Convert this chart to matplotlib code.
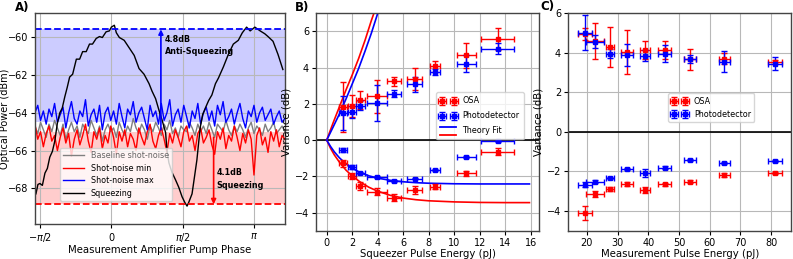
import numpy as np
import matplotlib
matplotlib.use("Agg")
import matplotlib.pyplot as plt
from matplotlib.lines import Line2D

# ---- Panel A: traces ----
# phase positions are in units of pi
sq_phase = [-0.528, -0.514, -0.5, -0.483, -0.465, -0.448, -0.431, -0.413, -0.396, -0.378,
            -0.361, -0.344, -0.326, -0.309, -0.292, -0.271, -0.245, -0.222, -0.201, -0.176,
            -0.153, -0.132, -0.106, -0.083, -0.063, -0.037, -0.014, 0.0, 0.021, 0.035,
            0.056, 0.090, 0.125, 0.160, 0.194, 0.229, 0.264, 0.285, 0.310, 0.333,
            0.354, 0.380, 0.389, 0.403, 0.424, 0.449, 0.472, 0.495, 0.514, 0.530,
            0.542, 0.565, 0.583, 0.599, 0.611, 0.623, 0.639, 0.658, 0.681, 0.704,
            0.729, 0.750, 0.785, 0.819, 0.854, 0.889, 0.917, 0.947, 0.972, 1.005,
            1.042, 1.074, 1.097, 1.132, 1.167, 1.201]
sq_power = [-68.3, -67.8, -67.75, -67.85, -67.2, -66.95, -66.35, -66.05, -65.5, -64.55,
            -64.0, -63.75, -63.15, -62.65, -62.1, -61.95, -61.15, -61.15, -60.75, -60.75,
            -60.35, -60.35, -60.05, -59.95, -60.0, -59.7, -59.65, -59.45, -59.35, -59.75,
            -60.0, -60.15, -60.55, -60.95, -61.65, -61.95, -62.45, -62.85, -63.25, -63.85,
            -64.35, -65.05, -65.95, -66.65, -67.15, -67.55, -67.95, -68.45, -68.75, -68.95,
            -68.75, -68.3, -67.35, -66.5, -65.6, -64.75, -64.1, -63.75, -63.35, -63.05,
            -62.45, -62.15, -61.55, -60.9, -60.35, -60.15, -59.75, -59.45, -59.65, -59.45,
            -59.65, -59.8, -59.95, -60.2, -60.9, -61.7]

noise_max = [-64.0, -63.6, -64.4, -63.9, -64.6, -63.8, -64.2, -63.5, -64.5, -64.1, -63.7, -64.8, -64.0, -63.4, -64.3,
             -64.6, -63.9, -64.2, -63.3, -64.7, -64.1, -63.8, -64.5, -63.6, -64.9, -64.0, -63.7, -64.4, -63.9, -64.6,
             -63.5, -64.2, -64.8, -63.8, -64.1, -63.4, -64.5, -64.0, -63.7, -64.3, -64.9, -63.6, -64.2, -63.9, -64.6,
             -63.5, -64.4, -64.0, -63.3, -64.7, -64.1, -63.8, -64.5, -63.6, -64.2, -64.8, -63.9, -64.3, -63.5, -64.6,
             -64.0, -63.7, -64.4, -63.9, -64.7, -63.6, -64.1, -63.4, -64.5, -64.2, -63.8, -64.6, -64.0, -63.5, -64.3,
             -64.8, -63.9, -64.2, -63.6, -64.5, -64.0, -63.7, -64.4, -64.1, -63.8, -64.6, -64.2, -63.9, -64.5, -64.3]
noise_base = [-64.7, -65.1, -64.5, -64.9, -65.3, -64.6, -65.0, -64.4, -64.8, -65.2, -64.6, -65.4, -64.9, -64.5, -65.0,
              -64.7, -65.3, -64.6, -64.9, -65.1, -64.4, -64.8, -65.2, -64.7, -65.5, -64.9, -64.6, -65.0, -64.8, -65.3,
              -64.5, -64.9, -65.2, -64.7, -65.0, -64.3, -64.8, -65.1, -64.6, -64.9, -65.4, -64.7, -65.0, -64.5, -64.8,
              -65.2, -64.6, -64.9, -64.4, -65.1, -64.8, -65.3, -64.7, -64.9, -65.0, -64.5, -64.8, -65.2, -64.6, -65.0,
              -64.7, -65.1, -64.5, -64.9, -65.3, -64.6, -64.8, -65.0, -64.4, -64.9, -65.2, -64.7, -65.0, -64.6, -64.9,
              -65.3, -64.8, -64.5, -65.1, -64.7, -64.9, -65.2, -64.6, -65.0, -64.8, -64.5, -65.1, -64.9, -64.7, -65.0]
noise_min = [-64.6, -65.4, -65.0, -65.8, -65.1, -64.7, -65.5, -65.2, -66.0, -65.3, -64.8, -65.6, -65.1, -66.3, -65.4,
             -64.9, -65.7, -65.2, -64.6, -65.5, -66.1, -65.0, -65.4, -64.8, -65.9, -65.2, -65.6, -64.7, -65.3, -66.2,
             -65.0, -65.5, -64.9, -65.8, -65.1, -65.4, -66.0, -64.8, -65.3, -65.7, -65.0, -64.6, -65.5, -65.9, -65.2,
             -64.8, -65.4, -66.1, -65.1, -65.6, -64.9, -65.3, -65.8, -65.0, -64.7, -65.5, -65.2, -66.0, -65.1, -64.8,
             -65.6, -65.3, -64.9, -65.7, -66.2, -65.0, -65.4, -64.8, -65.9, -65.2, -65.5, -64.7, -65.3, -66.0, -65.1,
             -65.6, -64.9, -65.4, -67.3, -65.2, -64.8, -65.7, -65.3, -66.1, -65.0, -65.5, -64.9, -65.8, -65.2, -65.4]

anti_sq_level = -59.57
sq_level = -68.85
blue_band_low = -64.5
red_band_high = -65.0

# ---- Panel B: variance vs squeezer pulse energy ----
b_x = [1.3, 2.0, 2.64, 3.95, 5.25, 6.9, 8.49, 10.95, 13.41]
b_xerr = [0.3, 0.3, 0.37, 0.76, 0.56, 0.6, 0.39, 0.72, 1.31]
b_osa_anti = [1.83, 1.87, 2.2, 2.42, 3.25, 3.39, 4.07, 4.68, 5.6]
b_osa_anti_err = [1.4, 0.6, 0.5, 0.9, 0.25, 0.6, 0.3, 0.7, 0.6]
b_pd_anti = [1.5, 1.56, 1.89, 2.05, 2.57, 3.08, 3.76, 4.22, 5.05]
b_pd_anti_err = [0.92, 0.35, 0.25, 1.0, 0.2, 0.4, 0.15, 0.46, 0.3]
b_osa_sq = [-1.28, -1.98, -2.53, -2.84, -3.18, -2.75, -2.57, -1.83, -0.64]
b_osa_sq_err = [0.2, 0.15, 0.2, 0.2, 0.2, 0.2, 0.15, 0.15, 0.2]
b_pd_sq = [-0.55, -1.47, -1.8, -2.05, -2.26, -2.12, -1.65, -0.92, -0.05]
b_pd_sq_err = [0.1, 0.1, 0.06, 0.06, 0.06, 0.05, 0.05, 0.05, 0.05]

fit_up_x = [0, 0.5, 1.0, 1.5, 2.0, 2.5, 3.0, 3.5, 4.0, 4.5]
fit_up_red = [0, 0.95, 1.85, 2.75, 3.6, 4.5, 5.5, 6.6, 7.6, 8.7]
fit_up_blue = [0, 0.72, 1.45, 2.25, 3.1, 3.95, 4.9, 5.9, 7.0, 8.0]
fit_lo_x = [0, 0.3, 0.6, 1.0, 1.5, 2.0, 2.6, 3.3, 4.0, 5.0, 6.0, 7.0, 8.0, 10.0, 12.0, 14.0, 15.9]
fit_lo_red = [0, -0.45, -0.82, -1.22, -1.65, -1.98, -2.3, -2.6, -2.82, -3.05, -3.2, -3.29, -3.35, -3.41, -3.44, -3.45, -3.45]
fit_lo_blue = [0, -0.35, -0.65, -0.98, -1.3, -1.55, -1.78, -1.97, -2.1, -2.22, -2.3, -2.35, -2.38, -2.41, -2.42, -2.42, -2.42]

# ---- Panel C: variance vs measurement pulse energy ----
c_x = [19.4, 22.6, 27.5, 33.2, 39.0, 45.3, 53.6, 64.8, 81.2]
c_xerr = [2.2, 3.0, 1.2, 2.0, 1.7, 2.05, 1.9, 1.8, 2.3]
c_osa_anti = [4.94, 4.6, 4.3, 4.05, 4.15, 4.15, 3.68, 3.71, 3.56]
c_osa_anti_err = [0.3, 0.9, 1.0, 1.1, 0.46, 0.46, 0.53, 0.3, 0.1]
c_pd_anti = [5.02, 4.57, 3.96, 3.88, 3.85, 3.96, 3.68, 3.56, 3.46]
c_pd_anti_err = [0.9, 0.33, 0.24, 0.56, 0.28, 0.42, 0.2, 0.52, 0.34]
c_osa_sq = [-4.12, -3.14, -2.89, -2.64, -2.94, -2.65, -2.52, -2.18, -2.08]
c_osa_sq_err = [0.36, 0.15, 0.1, 0.1, 0.15, 0.08, 0.08, 0.08, 0.05]
c_pd_sq = [-2.67, -2.52, -2.32, -1.88, -2.08, -1.81, -1.41, -1.58, -1.47]
c_pd_sq_err = [0.12, 0.06, 0.06, 0.06, 0.2, 0.06, 0.06, 0.06, 0.06]

TICK = 7
LAB = 7.3
LEG = 5.8
SPINE = "#444444"


class TwoLineHandler:
    # legend handle with a blue line over a red line
    def legend_artist(self, legend, orig_handle, fontsize, handlebox):
        x0, y0 = handlebox.xdescent, handlebox.ydescent
        w, h = handlebox.width, handlebox.height
        top = Line2D([x0, x0 + w], [y0 + h * 1.15] * 2, color="blue", lw=1.3)
        bot = Line2D([x0, x0 + w], [y0 - h * 0.35] * 2, color="red", lw=1.3)
        handlebox.add_artist(top)
        handlebox.add_artist(bot)
        return top


def style(ax):
    ax.grid(True, color="#b8b8b8", lw=0.8)
    ax.tick_params(labelsize=TICK, length=3, width=0.8, pad=2)
    for s in ax.spines.values():
        s.set_color(SPINE)
        s.set_linewidth(1.0)


def errpts(ax, x, y, xerr, yerr, color, label=None):
    return ax.errorbar(x, y, xerr=xerr, yerr=yerr, fmt="s", color=color, ms=2.5,
                       elinewidth=1.0, capsize=2, capthick=1.0, label=label)


fig = plt.figure(figsize=(7.93, 2.59), dpi=100)
axA = fig.add_axes([0.0441, 0.1351, 0.3153, 0.8147])
axB = fig.add_axes([0.3985, 0.1093, 0.2812, 0.8393])
axC = fig.add_axes([0.7163, 0.1093, 0.2818, 0.8393])

# ---------------- A ----------------
noise_phase = np.linspace(-0.535, 1.215, len(noise_base)) * np.pi
axA.axhspan(blue_band_low, anti_sq_level, color="blue", alpha=0.2, lw=0)
axA.axhspan(sq_level, red_band_high, color="red", alpha=0.2, lw=0)
axA.plot(noise_phase, noise_base, color="gray", lw=1.0, label="Baseline shot-noise")
axA.plot(noise_phase, noise_min, color="red", lw=1.0, label="Shot-noise min")
axA.plot(noise_phase, noise_max, color="blue", lw=1.0, label="Shot-noise max")
axA.plot(np.array(sq_phase) * np.pi, sq_power, color="black", lw=1.0, label="Squeezing")
axA.axhline(anti_sq_level, color="blue", ls="--", lw=1.3)
axA.axhline(sq_level, color="red", ls="--", lw=1.3)
axA.annotate("", xy=(1.09, anti_sq_level), xytext=(1.09, -64.9),
             arrowprops=dict(arrowstyle="-|>", color="blue", lw=1.2, shrinkA=0, shrinkB=0,
                             mutation_scale=7))
axA.annotate("", xy=(2.25, sq_level), xytext=(2.25, -65.3),
             arrowprops=dict(arrowstyle="-|>", color="red", lw=1.2, shrinkA=0, shrinkB=0,
                             mutation_scale=7))
axA.text(1.17, -59.85, "4.8dB\nAnti-Squeezing", fontsize=5.8, fontweight="bold",
         va="top", ha="left", linespacing=1.5)
axA.text(2.31, -67.5, "4.1dB\nSqueezing", fontsize=5.8, fontweight="bold",
         va="center", ha="left", linespacing=1.5)
axA.set_xlim(-1.68, 3.82)
axA.set_ylim(-69.9, -58.7)
axA.set_xticks([-np.pi / 2, 0, np.pi / 2, np.pi])
axA.set_xticklabels([r"$-\pi/2$", r"$0$", r"$\pi/2$", r"$\pi$"])
axA.set_yticks([-68, -66, -64, -62, -60])
axA.set_xlabel("Measurement Amplifier Pump Phase", fontsize=LAB, labelpad=1)
style(axA)
axA.tick_params(axis="y", pad=1.5)
axA.set_ylabel("Optical Power (dBm)", fontsize=7)
axA.yaxis.set_label_coords(-0.1, 0.5)
legA = axA.legend(loc="lower left", bbox_to_anchor=(0.085, 0.09), fontsize=LEG,
                  handlelength=2.6, borderpad=0.4, labelspacing=0.45, framealpha=0.8)
legA.get_texts()[0].set_color("#666666")

# ---------------- B ----------------
axB.axhline(0, color="black", lw=1.2, zorder=1.8)
axB.plot(fit_up_x, fit_up_red, color="red", lw=1.2)
axB.plot(fit_up_x, fit_up_blue, color="blue", lw=1.2)
axB.plot(fit_lo_x, fit_lo_red, color="red", lw=1.2)
axB.plot(fit_lo_x, fit_lo_blue, color="blue", lw=1.2)
h1 = errpts(axB, b_x, b_osa_anti, b_xerr, b_osa_anti_err, "red", "OSA")
errpts(axB, b_x, b_osa_sq, b_xerr, b_osa_sq_err, "red")
h2 = errpts(axB, b_x, b_pd_anti, b_xerr, b_pd_anti_err, "blue", "Photodetector")
errpts(axB, b_x, b_pd_sq, b_xerr, b_pd_sq_err, "blue")
fit_handle = Line2D([], [], color="blue")
axB.set_xlim(-0.84, 16.65)
axB.set_ylim(-5, 7)
axB.set_xticks(range(0, 17, 2))
axB.set_yticks([-4, -2, 0, 2, 4, 6])
axB.set_xlabel("Squeezer Pulse Energy (pJ)", fontsize=LAB, labelpad=1)
axB.set_ylabel("Variance (dB)", fontsize=LAB, labelpad=2)
style(axB)
axB.legend([h1, h2, fit_handle], ["OSA", "Photodetector", "Theory Fit"],
           handler_map={fit_handle: TwoLineHandler()}, numpoints=2,
           loc="upper left", bbox_to_anchor=(0.52, 0.655), fontsize=LEG,
           handlelength=2.0, labelspacing=0.75, borderpad=0.5, framealpha=0.8)

# ---------------- C ----------------
axC.axhline(0, color="black", lw=1.2, zorder=1.8)
k1 = errpts(axC, c_x, c_osa_anti, c_xerr, c_osa_anti_err, "red", "OSA")
errpts(axC, c_x, c_osa_sq, c_xerr, c_osa_sq_err, "red")
k2 = errpts(axC, c_x, c_pd_anti, c_xerr, c_pd_anti_err, "blue", "Photodetector")
errpts(axC, c_x, c_pd_sq, c_xerr, c_pd_sq_err, "blue")
axC.set_xlim(13.9, 86.6)
axC.set_ylim(-5, 6)
axC.set_xticks([20, 30, 40, 50, 60, 70, 80])
axC.set_yticks([-4, -2, 0, 2, 4, 6])
axC.set_xlabel("Measurement Pulse Energy (pJ)", fontsize=LAB, labelpad=1)
axC.set_ylabel("Variance (dB)", fontsize=LAB, labelpad=2)
style(axC)
axC.legend([k1, k2], ["OSA", "Photodetector"], numpoints=2,
           loc="upper left", bbox_to_anchor=(0.43, 0.65), fontsize=LEG,
           handlelength=2.0, borderpad=0.4, framealpha=0.8)

fig.text(0.019, 0.995, "A)", fontsize=8.5, fontweight="bold", va="top")
fig.text(0.372, 0.995, "B)", fontsize=8.5, fontweight="bold", va="top")
fig.text(0.682, 1.0, "C)", fontsize=8.5, fontweight="bold", va="top")

fig.savefig("out.png", dpi=100)
